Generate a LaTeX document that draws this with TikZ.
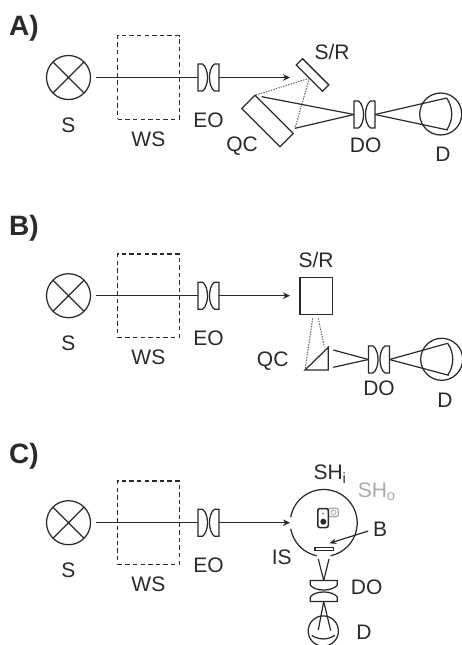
\documentclass[tikz,border=0pt]{standalone}
\usepackage{fontspec}
\setmainfont{Liberation Sans}
\usepackage{tikz}
\usetikzlibrary{positioning}
\usetikzlibrary{arrows.meta}

\definecolor{ink}{HTML}{2A2A2A}
\definecolor{faint}{HTML}{ABABAB}

\tikzset{
    line/.style={draw=ink, line width=1.25pt},
    beam/.style={draw=ink, line width=1.3pt},
    ray/.style={draw=ink, line width=1.2pt},
    dotray/.style={draw=ink!75, line width=1pt, dash pattern=on 1.4pt off 1.2pt},
    lbl/.style={text=ink, font=\fontsize{21}{24}\selectfont, inner sep=0pt},
    panel/.style={text=ink, font=\fontsize{28}{32}\selectfont\bfseries, inner sep=0pt, anchor=west},
    lamp/.style={line, circle, minimum size=44pt, inner sep=0pt, outer sep=0pt},
    wsbox/.style={draw=ink, line width=1.1pt, dash pattern=on 4.4pt off 3.2pt, minimum width=61.3pt, minimum height=83.5pt, inner sep=0pt},
    plate/.style={line, rotate=-45, inner sep=0pt, outer sep=0pt},
    lenspair/.pic={
        \draw[line] (-10.5,-13.5) -- (-6,-13.5) .. controls (0.7,-9) and (0.7,9) .. (-6,13.5) -- (-10.5,13.5) -- cycle;
        \draw[line] (10.5,-13.5) -- (6,-13.5) .. controls (-0.7,-9) and (-0.7,9) .. (6,13.5) -- (10.5,13.5) -- cycle;
        \coordinate (-west) at (-10.5,0);
        \coordinate (-east) at (10.5,0);
    },
    eye/.pic={
        \draw[line] (0,0) circle[radius=21pt];
        \draw[line] (6,-16) .. controls (12.7,-6) and (12.7,6) .. (6,16);
        \coordinate (-up) at (6,-16);
        \coordinate (-down) at (7,16);
    },
}

\begin{document}
\begin{tikzpicture}[x=1pt, y=-1pt, on grid]
    \useasboundingbox (0,0) rectangle (461,645);

    % the part all three panels share
    \foreach \p/\ypos in {a/77.5, b/295.7, c/522.7}{
        \node [lamp] (s\p) at (68.5,\ypos) {};
        \draw [line] (s\p.45) -- (s\p.225) (s\p.135) -- (s\p.-45);
        \node [wsbox, right=79.9pt of s\p] (ws\p) {};
        \coordinate [right=140pt of s\p] (eo\p);
        \pic (eo\p) at (eo\p) {lenspair};
        \coordinate [right=27.5pt of s\p] (start\p);
        \coordinate [right=221.5pt of s\p] (end\p);

        \node [lbl, below=47.5pt of s\p] (ls\p) {S};
        \node [lbl, below=61.8pt of ws\p] (lws\p) {WS};
        \node [lbl, below=35pt of eo\p] (leo\p) {EO};

        \draw [beam] (start\p) -- (eo\p-west);
        \draw [beam, -{Stealth[length=7pt,width=6.5pt]}] (eo\p-east) -- (end\p);
    }

    \node [panel] (pa) at (9,28) {A)};
    \node [panel] (pb) at (9,228) {B)};
    \node [panel] (pc) at (9,456.7) {C)};

    % panel A
    \node [plate, minimum width=37pt, minimum height=9pt] (sra) at (312.5,75) {};
    \node [plate, minimum width=54pt, minimum height=18.6pt] (qca) at (267.5,121) {};
    \coordinate (qcaL) at (261.7,96.7);
    \coordinate (qcaR) at (295,128.3);
    \pic (doa) at (364.5,114.5) {lenspair};
    \pic (da) at (440.7,114) {eye};

    \draw [dotray] (sra.south) -- (qca.north west);
    \draw [dotray] (sra.south) -- (qcaR);
    \draw [ray] (qcaL) -- (doa-west);
    \draw [ray] (qcaR) -- (doa-west);
    \draw [ray] (doa-east) -- (da-up);
    \draw [ray] (doa-east) -- (da-down);

    \node [lbl] (lsra) at (332,51.7) {S/R};
    \node [lbl] (lqca) at (242,145.7) {QC};
    \node [lbl] (ldoa) at (365.7,145) {DO};
    \node [lbl] (lda) at (443,154) {D};

    % panel B
    \node [line, minimum width=32.3pt, minimum height=36.6pt, inner sep=0pt, outer sep=0pt] (srb) at (316.2,296) {};
    \coordinate (pr1) at (305,370);
    \coordinate (pr2) at (328.3,370);
    \coordinate (pr3) at (328.3,347.3);
    \draw [line] (pr1) -- (pr2) -- (pr3) -- cycle;
    \coordinate (srb1) at (312.7,318.3);
    \coordinate (srb2) at (318.3,318.3);
    \coordinate (prb1) at (324.3,346.7);
    \coordinate (qcb1) at (333.3,350);
    \coordinate (qcb2) at (333.3,367.3);
    \pic (dob) at (379,359.5) {lenspair};
    \pic (db) at (441.7,359.3) {eye};

    \draw [dotray] (srb1) -- (pr1);
    \draw [dotray] (srb2) -- (prb1);
    \draw [ray] (qcb1) -- (dob-west);
    \draw [ray] (qcb2) -- (dob-west);
    \draw [ray] (dob-east) -- (db-up);
    \draw [ray] (dob-east) -- (db-down);

    \node [lbl] (lsrb) at (316,260) {S/R};
    \node [lbl] (lqcb) at (272.7,361) {QC};
    \node [lbl] (ldob) at (379,388) {DO};
    \node [lbl] (ldb) at (445,400) {D};

    % panel C
    \node [circle, minimum size=67pt, inner sep=0pt, outer sep=0pt] (is) at (323.7,523) {};
    \draw [line] (is.170) arc[start angle=170, end angle=-78, radius=33.5pt];
    \draw [line] (is.190) arc[start angle=190, end angle=258, radius=33.5pt];

    \node [line, fill=white, draw=faint, rounded corners=2pt, minimum width=10pt, minimum height=8.4pt, inner sep=0pt] (sho) at (333.3,512.5) {};
    \node [circle, draw=faint, line width=0.8pt, minimum size=5pt, inner sep=0pt] (shoa) at (333.5,512.5) {};
    \node [line, line width=1.5pt, fill=white, rounded corners=2pt, minimum width=10.5pt, minimum height=19pt, inner sep=0pt] (shi) at (323,518) {};
    \node [circle, fill=ink, minimum size=6pt, inner sep=0pt] (shia) at (323.3,521.7) {};
    \node [circle, fill=ink!60, minimum size=2pt, inner sep=0pt] (shib) at (323,513.5) {};

    \node [line, minimum width=18.3pt, minimum height=3.4pt, inner sep=0pt] (baf) at (324.2,549) {};
    \coordinate (bafp) at (329.3,543.3);
    \coordinate (lbt) at (368.3,531);
    \draw [ray, -{Stealth[length=7pt,width=5.5pt]}] (lbt) -- (bafp);

    \pic [rotate=-90] (doc) at (323.7,591) {lenspair};
    \pic [rotate=-90, scale=0.72] (dc) at (323.3,631) {eye};
    \coordinate (isl) at (318.3,559);
    \coordinate (isr) at (329,559);
    \coordinate (dcl) at (318.3,630);
    \coordinate (dcr) at (330.7,630.7);
    \draw [ray] (isl) -- (doc-west);
    \draw [ray] (isr) -- (doc-west);
    \draw [ray] (doc-east) -- (dcl);
    \draw [ray] (doc-east) -- (dcr);

    \node [lbl] (lshi) at (330,474) {SH\textsubscript{i}};
    \node [lbl, text=faint] (lsho) at (376.7,491.7) {SH\textsubscript{o}};
    \node [lbl] (lb) at (380,529) {B};
    \node [lbl] (lis) at (281.7,557) {IS};
    \node [lbl] (ldoc) at (366.7,587.3) {DO};
    \node [lbl] (ldc) at (364,632.5) {D};
\end{tikzpicture}
\end{document}
